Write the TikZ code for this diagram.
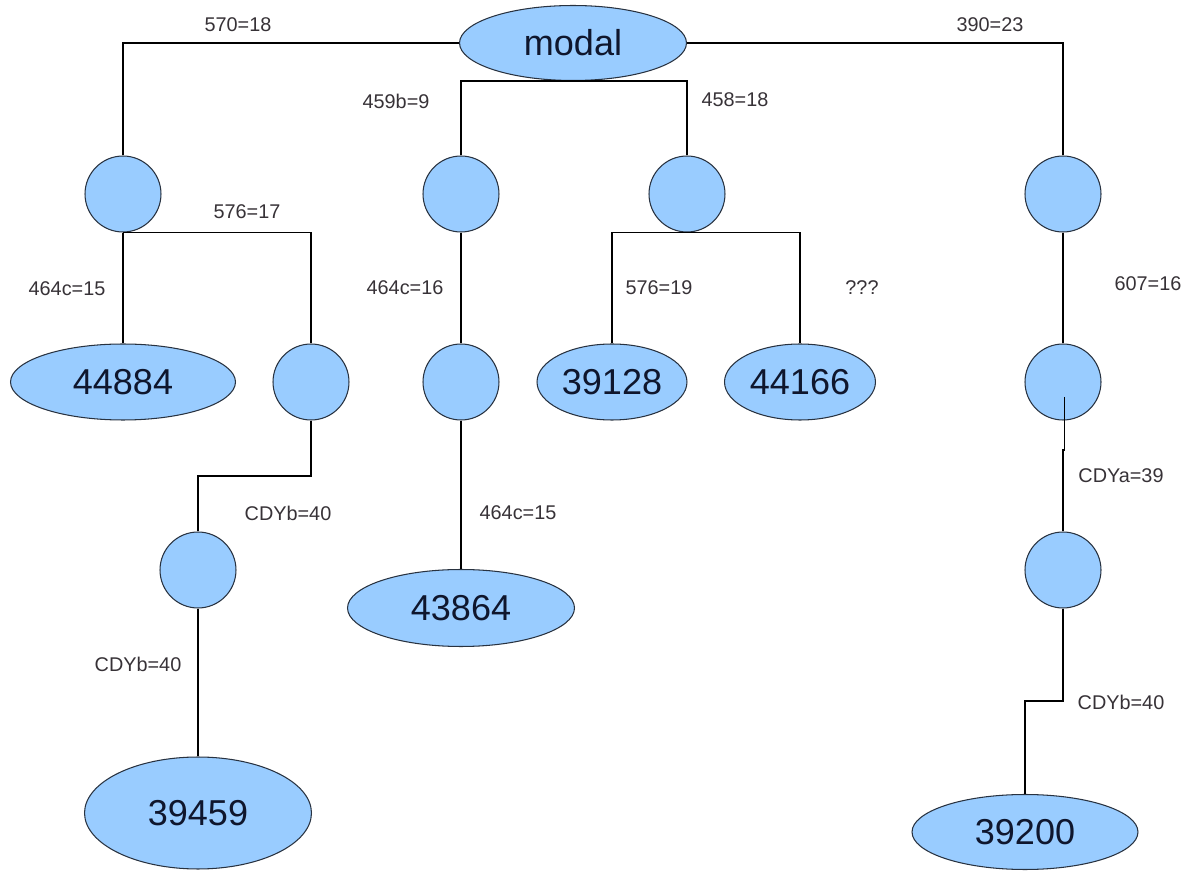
\documentclass[tikz,border=0pt]{standalone}
\usepackage{fontspec}
\setmainfont{Liberation Sans}
\usetikzlibrary{shapes.geometric}
\definecolor{nodefill}{RGB}{153,204,255}
\definecolor{nodeline}{RGB}{40,50,64}
\definecolor{condtext}{RGB}{55,50,55}
\definecolor{leaftext}{RGB}{15,22,45}
\begin{document}
\begin{tikzpicture}[
	x=0.02cm, y=-0.02cm,
	every path/.style={line width=0.65pt},
	decision/.style={circle, fill=nodefill, draw=nodeline, line width=0.6pt, minimum size=1.52cm, inner sep=0pt},
	leaf/.style={ellipse, fill=nodefill, draw=nodeline, line width=0.6pt, inner sep=0pt, text=leaftext, font=\fontsize{20.5}{24}\selectfont, minimum width=#1},
	leaf/.default=4.54cm,
	cond/.style={text=condtext, font=\fontsize{11.3}{13}\selectfont, inner sep=1pt},
]
\useasboundingbox (0,0) rectangle (1188,871);
\node [leaf, minimum height=1.5cm] (modal) at (573,43) {modal};
\node [decision] (c1) at (123,194) {};
\node [decision] (c2) at (461,194) {};
\node [decision] (c3) at (687,194) {};
\node [decision] (c4) at (1063,194) {};
\node [leaf=4.5cm, minimum height=1.52cm] (e44884) at (123,382) {44884};
\node [decision] (c5) at (311,382) {};
\node [decision] (c7) at (461,382) {};
\node [leaf=3cm, minimum height=1.52cm] (e39128) at (612,382) {39128};
\node [leaf=3.02cm, minimum height=1.52cm] (e44166) at (800,382) {44166};
\node [decision] (c8) at (1063,382) {};
\node [decision] (c6) at (198,570) {};
\node [decision] (c9) at (1063,570) {};
\node [leaf, minimum height=1.54cm] (e43864) at (461,608) {43864};
\node [leaf, minimum height=2.24cm] (e39459) at (198,813) {39459};
\node [leaf=4.52cm, minimum height=1.5cm] (e39200) at (1025,832) {39200};
\coordinate (k1) at (198,476);
\coordinate (k2) at (1064.5,397);
\coordinate (k3) at (1025,701);
\draw (modal.west) -| (c1.north);
\draw (modal.east) -| (c4.north);
\draw (c2.north) |- (modal.south) -| (c3.north);
\draw (c1.south) -- (e44884.north);
\draw (c1.south) -| (c5.north);
\draw (c5.south) |- (k1) -- (c6.north);
\draw (c6.south) -- (e39459.north);
\draw (c2.south) -- (c7.north);
\draw (c7.south) -- (e43864.north);
\draw (e39128.north) |- (c3.south) -| (e44166.north);
\draw (c4.south) -- (c8.north);
\draw (k2) -- ++(0,53) -- ++(-1.5,0) -- (c9.north);
\draw (c9.south) |- (k3) -- (e39200.north);
\node [cond] (l570) at (238,25) {570=18};
\node [cond] (l390) at (990,25) {390=23};
\node [cond] (l459) at (396,101) {459b=9};
\node [cond] (l458) at (735,100) {458=18};
\node [cond] (l576a) at (247,212) {576=17};
\node [cond] (l464a) at (67,289) {464c=15};
\node [cond] (l464b) at (405,288) {464c=16};
\node [cond] (l576b) at (659,288) {576=19};
\node [cond] (lunk) at (862,288) {???};
\node [cond] (l607) at (1148,284) {607=16};
\node [cond] (lcdyb1) at (288,513) {CDYb=40};
\node [cond] (l464c) at (518,513) {464c=15};
\node [cond] (lcdya) at (1121,476) {CDYa=39};
\node [cond] (lcdyb2) at (138,664) {CDYb=40};
\node [cond] (lcdyb3) at (1121,702) {CDYb=40};
\end{tikzpicture}
\end{document}
